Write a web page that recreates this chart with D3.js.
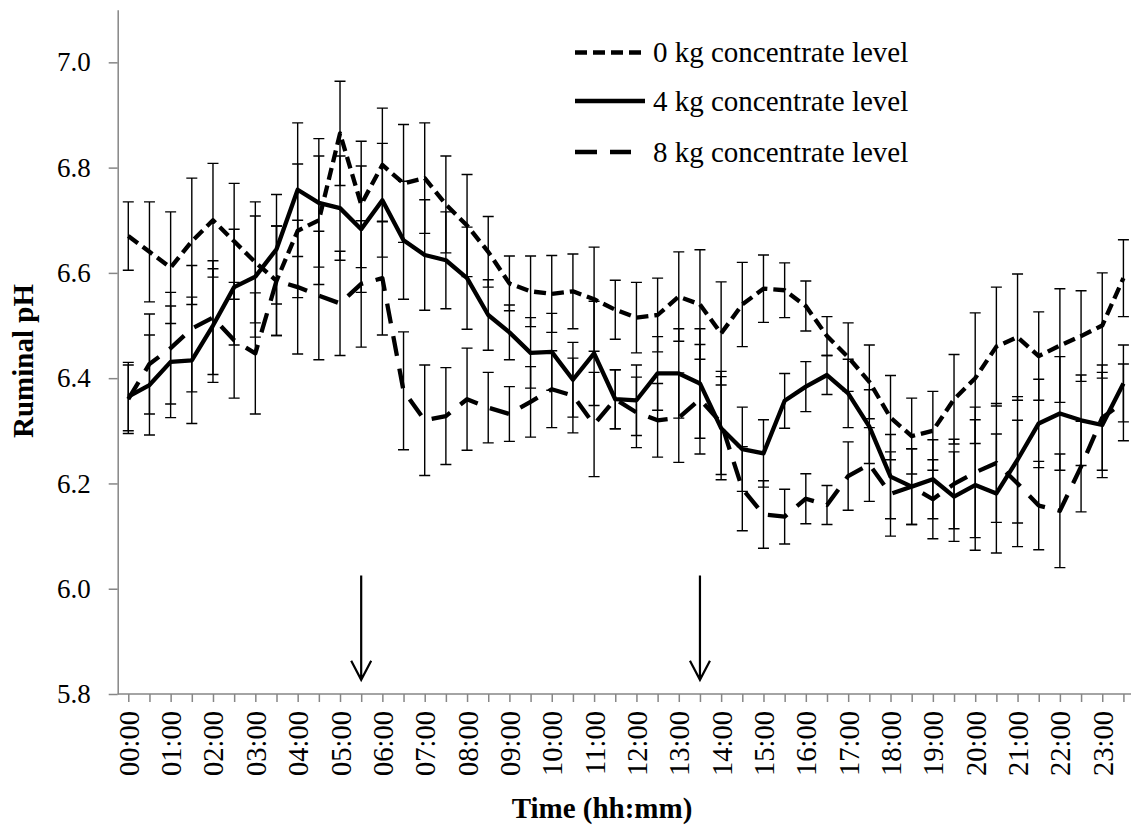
<!DOCTYPE html>
<html>
<head>
<meta charset="utf-8">
<script src="https://cdn.jsdelivr.net/npm/d3@7.9.0/dist/d3.min.js"></script>
<style>
  body { margin: 0; background: #fff; }
  svg { display: block; font-family: "Liberation Serif", "Times New Roman", serif; }
</style>
</head>
<body>
<svg id="chart" width="1131" height="825"></svg>
<script>
// half-hourly sampling times (categories)
const times = [
  '00:00', '00:30', '01:00', '01:30', '02:00', '02:30', '03:00', '03:30',
  '04:00', '04:30', '05:00', '05:30', '06:00', '06:30', '07:00', '07:30',
  '08:00', '08:30', '09:00', '09:30', '10:00', '10:30', '11:00', '11:30',
  '12:00', '12:30', '13:00', '13:30', '14:00', '14:30', '15:00', '15:30',
  '16:00', '16:30', '17:00', '17:30', '18:00', '18:30', '19:00', '19:30',
  '20:00', '20:30', '21:00', '21:30', '22:00', '22:30', '23:00', '23:30'
];

// ruminal pH
const ph0kg = [
  6.67, 6.64, 6.61, 6.66, 6.70, 6.66, 6.62, 6.585, 6.68, 6.70, 6.865, 6.73,
  6.805, 6.77, 6.78, 6.73, 6.69, 6.64, 6.58, 6.565, 6.56, 6.565, 6.55, 6.53,
  6.515, 6.52, 6.555, 6.54, 6.485, 6.54, 6.57, 6.567, 6.537, 6.48, 6.44, 6.393,
  6.325, 6.29, 6.30, 6.36, 6.40, 6.46, 6.478, 6.442, 6.462, 6.48, 6.50, 6.59
];
const ph4kg = [
  6.365, 6.387, 6.431, 6.434, 6.50, 6.573, 6.593, 6.645, 6.758, 6.733, 6.723, 6.683,
  6.738, 6.662, 6.634, 6.624, 6.59, 6.52, 6.487, 6.448, 6.45, 6.397, 6.447, 6.36,
  6.358, 6.409, 6.409, 6.39, 6.305, 6.265, 6.257, 6.357, 6.384, 6.406, 6.371, 6.308,
  6.213, 6.194, 6.208, 6.175, 6.197, 6.181, 6.245, 6.314, 6.333, 6.32, 6.311, 6.39
];
const ph8kg = [
  6.36, 6.427, 6.457, 6.494, 6.515, 6.472, 6.447, 6.585, 6.573, 6.557, 6.542, 6.579,
  6.59, 6.376, 6.32, 6.328, 6.36, 6.344, 6.332, 6.355, 6.379, 6.367, 6.312, 6.36,
  6.335, 6.32, 6.325, 6.36, 6.315, 6.19, 6.141, 6.137, 6.171, 6.159, 6.214, 6.236,
  6.18, 6.194, 6.17, 6.199, 6.221, 6.239, 6.20, 6.158, 6.148, 6.232, 6.325, 6.354
];
// standard error (same for every treatment at a given time)
const sem = [
  0.065, 0.095, 0.106, 0.12, 0.108, 0.11, 0.115, 0.104, 0.127, 0.122, 0.099, 0.12,
  0.108, 0.112, 0.105, 0.092, 0.097, 0.067, 0.052, 0.067, 0.073, 0.071, 0.099, 0.056,
  0.067, 0.07, 0.085, 0.104, 0.098, 0.08, 0.064, 0.052, 0.0475, 0.037, 0.065, 0.07,
  0.08, 0.072, 0.075, 0.085, 0.124, 0.113, 0.12, 0.084, 0.108, 0.086, 0.1, 0.073
];

const seriesNames = ['0 kg concentrate level', '4 kg concentrate level', '8 kg concentrate level'];
const seriesValues = [ph0kg, ph4kg, ph8kg];
const seriesDashes = ['12,6', null, '20,13'];

const yTicks = [5.8, 6.0, 6.2, 6.4, 6.6, 6.8, 7.0];
// feeding times marked with arrows, and the pH span the arrows cover
const feedingTimes = ['05:30', '13:30'];
const arrowSpan = [6.025, 5.827];

const svg = d3.select('#chart');
const axisColor = '#868686';

// scales
let x = d3.scalePoint()
  .domain(times)
  .range([117.7, 1134])
  .padding(0.5);

let y = d3.scaleLinear()
  .domain([5.8, 7.1])
  .range([694, 9.7]);

// y axis
let yAxis = svg.append('g')
  .attr('transform', 'translate(117.7,0)')
  .call(d3.axisLeft(y).tickValues(yTicks).tickFormat(d3.format('.1f'))
    .tickSize(9).tickSizeOuter(0).tickPadding(18));
yAxis.select('.domain').attr('stroke', axisColor).attr('stroke-width', 1.5);
yAxis.selectAll('.tick line').attr('stroke', axisColor).attr('stroke-width', 1.5);
yAxis.selectAll('.tick text')
  .attr('fill', '#000')
  .style('font-size', '27px')
  .style('font-family', '"Liberation Serif", "Times New Roman", serif');

// x axis: a tick at every half hour, labels on the full hours
let xAxis = svg.append('g')
  .attr('transform', 'translate(0,694)')
  .call(d3.axisBottom(x).tickSize(8).tickSizeOuter(0)
    .tickFormat((d) => d.endsWith(':00') ? d : ''));
xAxis.select('.domain')
  .attr('d', `M117.7,0H${x.range()[1]}`)
  .attr('stroke', axisColor).attr('stroke-width', 1.5);
xAxis.selectAll('.tick line').attr('stroke', axisColor).attr('stroke-width', 1.5);
xAxis.selectAll('.tick text')
  .attr('fill', '#000')
  .attr('transform', 'rotate(-90)')
  .attr('x', -17)
  .attr('y', 0)
  .attr('dy', '0.35em')
  .style('text-anchor', 'end')
  .style('font-size', '28.5px')
  .style('font-family', '"Liberation Serif", "Times New Roman", serif');

// axis titles
svg.append('text')
  .attr('x', 602)
  .attr('y', 818)
  .attr('text-anchor', 'middle')
  .style('font-size', '29px')
  .style('font-weight', 'bold')
  .text('Time (hh:mm)');

svg.append('text')
  .attr('transform', 'translate(33,361) rotate(-90)')
  .attr('text-anchor', 'middle')
  .style('font-size', '29px')
  .style('font-weight', 'bold')
  .text('Ruminal pH');

// error bars
const capHalf = 5.5;
seriesValues.forEach((values) => {
  let bars = svg.append('g')
    .attr('stroke', '#000')
    .attr('stroke-width', 1.4)
    .attr('fill', 'none');

  bars.selectAll('path')
    .data(times)
    .enter()
    .append('path')
    .attr('d', (t, i) => {
      let cx = x(t);
      let top = y(values[i] + sem[i]);
      let bottom = y(values[i] - sem[i]);
      return `M${cx},${top}V${bottom}M${cx - capHalf},${top}H${cx + capHalf}M${cx - capHalf},${bottom}H${cx + capHalf}`;
    });
});

// mean lines
seriesValues.forEach((values, s) => {
  let line = d3.line()
    .x((d, i) => x(times[i]))
    .y((d) => y(d));

  svg.append('path')
    .datum(values)
    .attr('d', line)
    .attr('fill', 'none')
    .attr('stroke', '#000')
    .attr('stroke-width', 4.3)
    .attr('stroke-linejoin', 'round')
    .attr('stroke-dasharray', seriesDashes[s]);
});

// feeding arrows
feedingTimes.forEach((t) => {
  let ax = x(t);
  let top = y(arrowSpan[0]);
  let tip = y(arrowSpan[1]);
  svg.append('path')
    .attr('d', `M${ax},${top}V${tip}M${ax - 10},${tip - 19}L${ax},${tip}L${ax + 10},${tip - 19}`)
    .attr('fill', 'none')
    .attr('stroke', '#000')
    .attr('stroke-width', 2.2);
});

// legend
let legend = svg.append('g');
const legendRows = [52.5, 101, 152];
const legendLineEnds = [647, 645, 631];

seriesNames.forEach((name, s) => {
  legend.append('line')
    .attr('x1', 575)
    .attr('x2', legendLineEnds[s])
    .attr('y1', legendRows[s])
    .attr('y2', legendRows[s])
    .attr('stroke', '#000')
    .attr('stroke-width', 4.3)
    .attr('stroke-dasharray', s === 2 ? '22,13' : seriesDashes[s]);

  legend.append('text')
    .attr('x', 653)
    .attr('y', legendRows[s])
    .attr('dy', '0.33em')
    .style('font-size', '29px')
    .text(name);
});
</script>
</body>
</html>
